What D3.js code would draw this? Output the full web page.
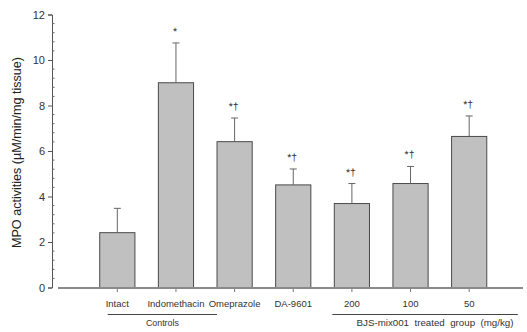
<!DOCTYPE html>
<html><head><meta charset="utf-8">
<script src="https://cdn.jsdelivr.net/npm/d3@7"></script>
<style>body{margin:0;background:#fff}svg{display:block}text{font-family:"Liberation Sans",Arial,sans-serif}</style>
</head><body>
<svg id="c" width="527" height="332"></svg>
<script>
const categories = ["Intact","Indomethacin","Omeprazole","DA-9601","200","100","50"];
const means = [2.41, 9.0, 6.41, 4.51, 3.69, 4.57, 6.64];
const errors = [1.07, 1.75, 1.04, 0.70, 0.88, 0.75, 0.90];
const marks = ["", "*", "*†", "*†", "*†", "*†", "*†"];
const yTicks = [0,2,4,6,8,10,12];
const groupLabels = ["Controls", "BJS-mix001  treated  group  (mg/kg)"];
const groupFrom = ["Intact", "200"];
const groupTo = ["Indomethacin", "50"];
const yTitle = "MPO activities (µM/min/mg tissue)";

// styling offsets for bracket lines (layout, not data)
const bracketStyle = [
  {padL: 8, padR: 23.5, textDx: 0, textLen: 33},
  {padL: -2, padR: 31, textDx: 10, textLen: 157}
];

const svg = d3.select("#c");
const y = d3.scaleLinear().domain([0,12]).range([287.5,14.5]);
const x = d3.scaleBand().domain(categories).range([88,498.5]).paddingInner(0.4).paddingOuter(0.2);
const axX = 52;

// y axis
const yAxis = d3.axisLeft(y).tickValues(yTicks).tickSize(4).tickPadding(3).tickFormat(d3.format("d"));
const gy = svg.append("g").attr("transform",`translate(${axX},0)`).call(yAxis);
gy.select(".domain").attr("stroke","#555").attr("stroke-width",1);
gy.selectAll(".tick line").attr("stroke","#555");
gy.selectAll(".tick text").attr("font-size","11px").attr("fill","#333").attr("font-family","'Liberation Sans',Arial,sans-serif");
// minor ticks
const minor = d3.range(0,12.001,0.4).filter(v=>Math.abs(v/2-Math.round(v/2))>1e-6);
svg.append("g").selectAll("line").data(minor).join("line")
  .attr("x1",axX).attr("x2",axX+2.5).attr("y1",d=>y(d)).attr("y2",d=>y(d))
  .attr("stroke","#666").attr("stroke-width",1);

// y title
svg.append("text").attr("transform",`translate(21,${(57+248)/2}) rotate(-90)`)
  .attr("text-anchor","middle").attr("font-size","12.5px").attr("fill","#222")
  .attr("textLength",191).attr("lengthAdjust","spacingAndGlyphs").text(yTitle);

// bars
svg.append("g").selectAll("rect").data(categories).join("rect")
  .attr("x",d=>x(d)).attr("width",x.bandwidth())
  .attr("y",(d,i)=>y(means[i])).attr("height",(d,i)=>y(0)-y(means[i]))
  .attr("fill","#c0c0c0").attr("stroke","#4a4a4a").attr("stroke-width",1);

// error bars
const eg = svg.append("g").attr("stroke","#666").attr("stroke-width",1);
categories.forEach((c,i)=>{
  const cx = x(c)+x.bandwidth()/2;
  eg.append("line").attr("x1",cx).attr("x2",cx).attr("y1",y(means[i])).attr("y2",y(means[i]+errors[i]));
  eg.append("line").attr("x1",cx-3.5).attr("x2",cx+3.5).attr("y1",y(means[i]+errors[i])).attr("y2",y(means[i]+errors[i]));
});

// significance marks
svg.append("g").selectAll("text").data(categories).join("text")
  .attr("x",d=>x(d)+x.bandwidth()/2-1).attr("y",(d,i)=>y(means[i]+errors[i])-8)
  .attr("text-anchor","middle").attr("font-size","10.5px").attr("fill","#333")
  .style("text-rendering","geometricPrecision")
  .text((d,i)=>marks[i]);

// x axis line
svg.append("line").attr("x1",58).attr("x2",523).attr("y1",y(0)+0.5).attr("y2",y(0)+0.5)
  .attr("stroke","#8a8a8a").attr("stroke-width",2);
const xAxis = d3.axisBottom(x).tickSize(3).tickPadding(8);
const gx = svg.append("g").attr("transform",`translate(0,${y(0)+1.5})`).call(xAxis);
gx.select(".domain").remove();
gx.selectAll(".tick line").attr("stroke","#777");
gx.selectAll(".tick text").attr("font-size","9.5px").attr("fill","#333").attr("font-family","'Liberation Sans',Arial,sans-serif");

// group brackets
groupLabels.forEach((label,i)=>{
  const s = bracketStyle[i];
  const x0 = x(groupFrom[i]) + s.padL;
  const x1 = x(groupTo[i]) + x.bandwidth() + s.padR;
  svg.append("line").attr("x1",x0).attr("x2",x1).attr("y1",314.5).attr("y2",314.5)
    .attr("stroke","#444").attr("stroke-width",1);
  svg.append("text").attr("x",(x0+x1)/2 + s.textDx).attr("y",326)
    .attr("text-anchor","middle").attr("font-size","9.5px").attr("fill","#333")
    .attr("textLength",s.textLen).attr("lengthAdjust","spacingAndGlyphs")
    .style("white-space","pre").text(label);
});
</script>
</body></html>
